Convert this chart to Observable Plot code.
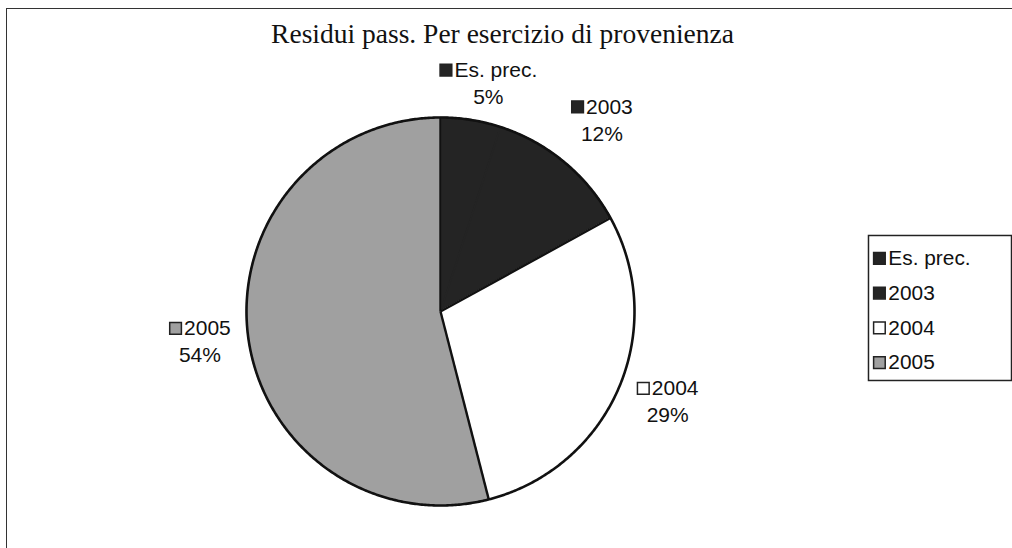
<!DOCTYPE html>
<html>
<head>
<meta charset="utf-8">
<script src="https://cdn.jsdelivr.net/npm/d3@7"></script>
<script src="https://cdn.jsdelivr.net/npm/@observablehq/plot@0.6"></script>
<style>
  html, body { margin: 0; padding: 0; background: #fff; }
  #wrap { position: relative; width: 1012px; height: 548px; overflow: hidden; background: #fff; }
  #border { position: absolute; left: 6px; top: 8px; right: -10px; bottom: -10px;
            border-top: 1.5px solid #333; border-left: 1.5px solid #333; }
  #chart { position: absolute; left: 0; top: 0; }
  #legend { position: absolute; left: 867px; top: 234px; }
</style>
</head>
<body>
<div id="wrap">
  <div id="border"></div>
  <div id="chart"></div>
  <div id="legend"></div>
</div>
<script>
// ---- data ----
const categories = ["Es. prec.", "2003", "2004", "2005"];
const values = [5, 12, 29, 54];
const pctLabels = ["5%", "12%", "29%", "54%"];
const colors = ["#242424", "#242424", "#ffffff", "#a0a0a0"];
const titleText = "Residui pass. Per esercizio di provenienza";

// ---- layout ----
const CX = 440, CY = 311, R = 194;
const labelDist = [1.2, 1.29, 1.26, 1.25];
const labelAngleShift = [0.05, 0.01, -0.03, 0];
const FONT = "Liberation Sans";
const FS = 21;

const total = d3.sum(values);
const slicePts = [];
const edges = [];
const labelName = [], labelPct = [], labelSq = [];
const ctx = document.createElement("canvas").getContext("2d");
ctx.font = `${FS}px '${FONT}'`;

let acc = 0;
categories.forEach((c, i) => {
  const a0 = acc / total * 2 * Math.PI;
  const a1 = (acc + values[i]) / total * 2 * Math.PI;
  const mid = (a0 + a1) / 2 + labelAngleShift[i];
  acc += values[i];
  const n = Math.max(2, Math.ceil((a1 - a0) / 0.005));
  slicePts.push({cat: c, x: 0, y: 0});
  for (let k = 0; k <= n; k++) {
    const a = a0 + (a1 - a0) * k / n;
    slicePts.push({cat: c, x: Math.sin(a), y: Math.cos(a)});
  }
  slicePts.push({cat: c, x: 0, y: 0});
  // radial edge at start of slice when its colour differs from the previous one
  const prev = colors[(i - 1 + colors.length) % colors.length];
  if (prev !== colors[i]) edges.push({x2: Math.sin(a0), y2: Math.cos(a0)});

  // label block centre (pixels)
  const d = labelDist[i] * R;
  const bx = CX + d * Math.sin(mid);
  const by = CY - d * Math.cos(mid);
  const tw = ctx.measureText(c).width;
  const sq = 13, gap = 2;
  const w = sq + gap + tw;
  const toX = px => (px - CX) / R, toY = py => (CY - py) / R;
  labelSq.push({cat: c, x: toX(bx - w / 2 + sq / 2), y: toY(by - 13.5)});
  labelName.push({cat: c, text: c, x: toX(bx - w / 2 + sq + gap), y: toY(by - 13.5)});
  labelPct.push({cat: c, text: pctLabels[i], x: toX(bx), y: toY(by + 13.5)});
});
const outline = d3.range(0, 721).map(k => ({x: Math.sin(k / 720 * 2 * Math.PI), y: Math.cos(k / 720 * 2 * Math.PI)}));

const color = {domain: categories, range: colors};

const chart = Plot.plot({
  width: 1012,
  height: 548,
  margin: 0,
  x: {domain: [-1, 1], range: [CX - R, CX + R], axis: null},
  y: {domain: [-1, 1], range: [CY + R, CY - R], axis: null},
  color,
  style: {background: "transparent", overflow: "visible"},
  marks: [
    Plot.line(slicePts, {x: "x", y: "y", z: "cat", fill: "cat", stroke: "cat",
      strokeWidth: 1.6, curve: "linear"}),
    Plot.link(edges, {x1: 0, y1: 0, x2: "x2", y2: "y2", stroke: "#111", strokeWidth: 2.4}),
    Plot.line(outline, {x: "x", y: "y", stroke: "#111", strokeWidth: 2.6, curve: "linear"}),
    Plot.text([titleText], {text: d => d, frameAnchor: "top", dy: 34, dx: -4,
      lineAnchor: "middle", fontFamily: "Liberation Serif", fontSize: 27.5, fill: "#111"}),
    Plot.dot(labelSq, {x: "x", y: "y", fill: "cat", stroke: "#222", strokeWidth: 1.5,
      symbol: "square", r: 6.6}),
    Plot.text(labelName, {x: "x", y: "y", text: "text", textAnchor: "start",
      lineAnchor: "middle", fontFamily: FONT, fontSize: FS, fill: "#111"}),
    Plot.text(labelPct, {x: "x", y: "y", text: "text", textAnchor: "middle",
      lineAnchor: "middle", fontFamily: FONT, fontSize: FS, fill: "#111"})
  ]
});
document.getElementById("chart").appendChild(chart);

const legend = Plot.plot({
  width: 146,
  height: 148,
  margin: 0,
  y: {type: "point", domain: categories, range: [23, 130], padding: 0, axis: null},
  color,
  style: {background: "transparent", overflow: "visible"},
  marks: [
    Plot.frame({stroke: "#222", strokeWidth: 1.5, inset: 1}),
    Plot.dot(categories, {y: d => d, frameAnchor: "left", dx: 12, fill: d => d,
      stroke: "#222", strokeWidth: 1.5, symbol: "square", r: 6.6}),
    Plot.text(categories, {y: d => d, text: d => d, frameAnchor: "left", dx: 21,
      textAnchor: "start", lineAnchor: "middle", fontFamily: FONT, fontSize: FS, fill: "#111"})
  ]
});
document.getElementById("legend").appendChild(legend);
</script>
</body>
</html>
